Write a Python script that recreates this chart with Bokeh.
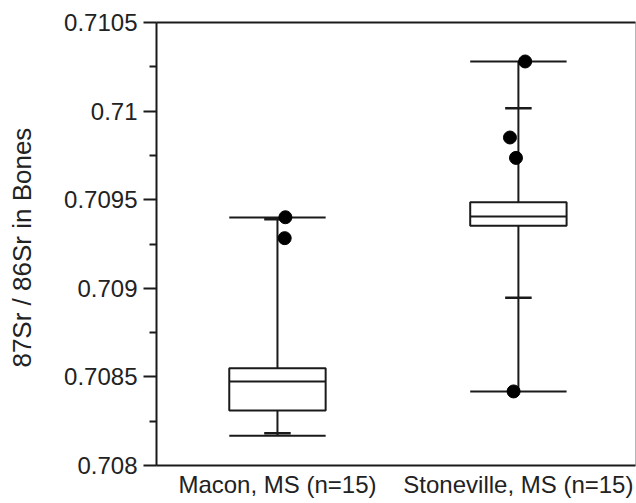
import numpy as np
from bokeh.plotting import figure
from bokeh.models import Range1d, LinearAxis, FixedTicker, CustomJSTickFormatter
from bokeh.embed import file_html
from bokeh.resources import INLINE

# ---- data ----
sites = ["Macon, MS (n=15)", "Stoneville, MS (n=15)"]
site_pos = [1, 2]
q1 = [0.70831, 0.709353]
median = [0.708474, 0.709405]
q3 = [0.708549, 0.709486]
whisk_lo = [0.708168, 0.708418]
whisk_hi = [0.70940, 0.71028]
p10 = [0.708182, 0.708946]
p90 = [0.70939, 0.710016]

out_site = [1, 1, 2, 2, 2, 2]
out_jitter = [0.033, 0.03, 0.028, -0.035, -0.01, -0.02]
out_val = [0.709401, 0.709283, 0.71028, 0.709851, 0.709736, 0.708418]

y_ticks = [0.708, 0.7085, 0.709, 0.7095, 0.71, 0.7105]
y_minor = [0.70825, 0.70875, 0.70925, 0.70975, 0.71025]
y_label = "87Sr / 86Sr in  Bones"

# ---- style ----
INK = "#1a1a1a"
FONT = "Liberation Sans"
BOX_W = 0.4
TICK_W = 0.11

pos = np.array(site_pos, dtype=float)

p = figure(width=636, height=503, output_backend="svg", toolbar_location=None,
           x_range=Range1d(0.498, 2.486), y_range=Range1d(0.708, 0.7105),
           min_border_left=156, min_border_right=1, min_border_top=22,
           min_border_bottom=38)
p.xgrid.visible = False
p.ygrid.visible = False
p.outline_line_color = "#b5b5b5"
p.outline_line_width = 1
p.background_fill_color = "white"
p.border_fill_color = "white"

# left axis
ya = p.yaxis[0]
ya.ticker = FixedTicker(ticks=y_ticks, minor_ticks=y_minor)
ya.formatter = CustomJSTickFormatter(code="return Number(tick.toFixed(4)).toString();")
ya.axis_line_width = 2
ya.axis_line_color = INK
ya.major_tick_out = 13
ya.major_tick_in = 0
ya.minor_tick_out = 7
ya.minor_tick_in = 0
ya.major_tick_line_width = 2
ya.minor_tick_line_width = 2
ya.major_tick_line_color = INK
ya.minor_tick_line_color = INK
ya.major_label_standoff = 6
ya.major_label_text_font = FONT
ya.major_label_text_font_size = "24px"
ya.major_label_text_color = "#222222"
ya.axis_label = y_label
ya.axis_label_text_font = FONT
ya.axis_label_text_font_size = "26px"
ya.axis_label_text_font_style = "normal"
ya.axis_label_text_color = "#222222"
ya.axis_label_standoff = 24

# bottom axis
xa = p.xaxis[0]
xa.ticker = FixedTicker(ticks=site_pos, minor_ticks=[])
xa.formatter = CustomJSTickFormatter(args=dict(labels=sites),
                                     code="return labels[Math.round(tick) - 1];")
xa.axis_line_width = 2
xa.axis_line_color = INK
xa.major_tick_out = 0
xa.major_tick_in = 0
xa.minor_tick_out = 0
xa.minor_tick_in = 0
xa.major_label_standoff = 5
xa.major_label_text_font = FONT
xa.major_label_text_font_size = "24px"
xa.major_label_text_color = "#222222"

# top frame line
top = LinearAxis(ticker=FixedTicker(ticks=[], minor_ticks=[]),
                 major_tick_out=0, major_tick_in=0, minor_tick_out=0, minor_tick_in=0,
                 axis_line_width=2, axis_line_color=INK,
                 major_label_text_font_size="0px")
p.add_layout(top, "above")

# whiskers
p.segment(x0=pos, y0=q3, x1=pos, y1=whisk_hi, line_color=INK, line_width=2)
p.segment(x0=pos, y0=q1, x1=pos, y1=whisk_lo, line_color=INK, line_width=2)
# caps
p.segment(x0=pos - BOX_W / 2, y0=whisk_hi, x1=pos + BOX_W / 2, y1=whisk_hi,
          line_color=INK, line_width=2)
p.segment(x0=pos - BOX_W / 2, y0=whisk_lo, x1=pos + BOX_W / 2, y1=whisk_lo,
          line_color=INK, line_width=2)
# percentile ticks
p.segment(x0=pos - TICK_W / 2, y0=p90, x1=pos + TICK_W / 2, y1=p90,
          line_color=INK, line_width=2.5)
p.segment(x0=pos - TICK_W / 2, y0=p10, x1=pos + TICK_W / 2, y1=p10,
          line_color=INK, line_width=2.5)
# boxes
p.vbar(x=pos, width=BOX_W, bottom=q1, top=q3, fill_color="white",
       line_color=INK, line_width=2)
p.segment(x0=pos - BOX_W / 2, y0=median, x1=pos + BOX_W / 2, y1=median,
          line_color=INK, line_width=2)
# outliers
ox = np.array(out_site, dtype=float) + np.array(out_jitter)
p.scatter(x=ox, y=out_val, size=13, fill_color="black", line_color="black")

open("out.html", "w").write(file_html(p, INLINE))
